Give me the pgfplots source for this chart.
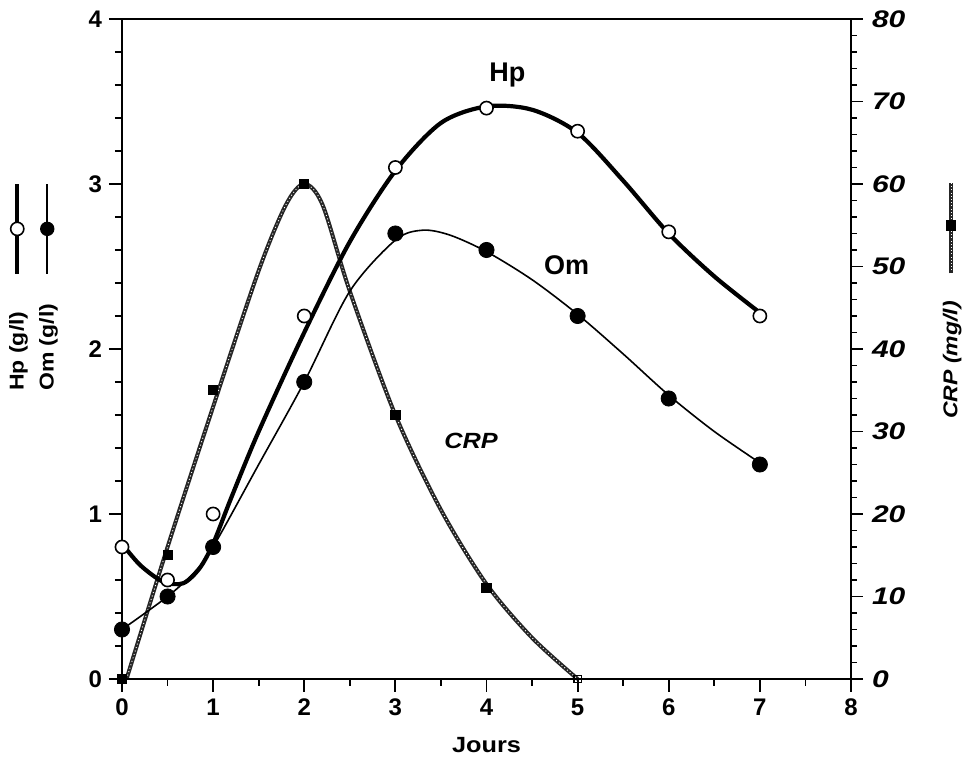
\documentclass[border=0pt]{standalone}
\usepackage{fontspec}
\setmainfont{Liberation Sans}
\newfontfamily\widefont{Liberation Sans}[FakeStretch=1.15]
\newfontfamily\tickwide{Liberation Sans}[FakeStretch=1.25]
\usepackage{pgfplots}
\usepackage{pgfplotstable}
\pgfplotsset{compat=1.18}

\pgfplotstableread{
x hp om
0 0.80 0.30
0.5 0.60 0.50
1 1.00 0.80
2 2.20 1.80
3 3.10 2.70
4 3.46 2.60
5 3.32 2.20
6 2.71 1.70
7 2.20 1.30
}\obs

\pgfplotstableread{
x crp
0 0
0.5 15
1 35
2 60
3 32
4 11
}\crpobs

\newcommand\symHp{\tikz[baseline=-0.6ex]{\draw[line width=2pt](0,0)--(45pt,0); \draw[line width=0.8pt,fill=white](22.5pt,0) circle (3.3pt);}}
\newcommand\symOm{\tikz[baseline=-0.6ex]{\draw[line width=0.8pt](0,0)--(45pt,0); \fill(22.5pt,0) circle (3.6pt);}}
\newcommand\symCRP{\tikz[baseline=-0.6ex]{\draw[line width=1.8pt,black!85](0,0)--(45pt,0); \draw[line width=0.4pt,white,dash pattern=on 0.4pt off 1.2pt](0,0)--(45pt,0); \fill(24pt,0) +(-2.6pt,-2.6pt) rectangle +(2.6pt,2.6pt);}}

\begin{document}
\begin{tikzpicture}
\useasboundingbox (-61pt,-45.5pt) rectangle (423pt,339.5pt);
% right axis: CRP
\begin{axis}[
  scale only axis, width=364.5pt, height=330pt,
  xmin=0, xmax=8, ymin=0, ymax=80,
  clip=false,
  axis x line=none, axis y line*=right,
  ytick={0,10,...,80}, minor y tick num=4,
  tick align=outside, major tick length=6pt, minor tick length=3pt,
  axis line style={line width=1pt},
  tick style={line width=0.9pt, black},
  /pgf/number format/assume math mode=true,
  yticklabel style={font=\tickwide\fontsize{12}{12}\selectfont\bfseries\itshape, xshift=1pt},
  ylabel={\widefont\fontsize{10}{12}\selectfont\bfseries\itshape CRP (mg/l)\hspace{13pt}\upshape\symCRP},
  ylabel style={at={(axis description cs:1.139,0.574)}, anchor=center},
]
\addplot[black!85, line width=2pt, smooth] coordinates {
(0.05,0) (0.5,16) (1,33) (1.5,49.5) (1.8,57.5) (2,60) (2.2,57.5) (2.5,47) (3,32) (3.5,20.5) (4,11.5) (4.5,5) (5,0)};
\addplot[white, line width=0.45pt, dash pattern=on 0.5pt off 1.3pt, smooth] coordinates {
(0.05,0) (0.5,16) (1,33) (1.5,49.5) (1.8,57.5) (2,60) (2.2,57.5) (2.5,47) (3,32) (3.5,20.5) (4,11.5) (4.5,5) (5,0)};
\addplot[only marks, mark=square*, mark size=2.3pt, black] table[x=x, y=crp] {\crpobs};
\addplot[only marks, mark=square, mark size=1.8pt, black, mark options={line width=0.7pt, fill=white}] coordinates {(5,0)};
\end{axis}
% left axis: Hp, Om
\begin{axis}[
  scale only axis, width=364.5pt, height=330pt,
  xmin=0, xmax=8, ymin=0, ymax=4,
  clip=false,
  xtick={0,1,...,8}, minor x tick num=1,
  ytick={0,1,...,4}, minor y tick num=4,
  xtick pos=bottom, ytick pos=left,
  tick align=outside, major tick length=6.5pt, minor tick length=3.5pt,
  axis line style={line width=1pt},
  tick style={line width=0.9pt, black},
  /pgf/number format/assume math mode=true,
  ticklabel style={font=\fontsize{12}{12}\selectfont\bfseries},
  xlabel={\widefont\fontsize{11}{12}\selectfont\bfseries Jours},
  xlabel style={at={(axis description cs:0.5,-0.1)}, anchor=center},
  ylabel={\widefont\fontsize{10}{12}\selectfont\bfseries\begin{tabular}{@{}l@{\hspace{14pt}}c@{}}Hp (g/l) & \symHp\\[3pt] Om (g/l) & \symOm\end{tabular}},
  ylabel style={at={(axis description cs:-0.121,0.595)}, anchor=center},
]
\addplot[black, line width=0.8pt, smooth] coordinates {
(0,0.3) (0.5,0.5) (0.8,0.65) (1,0.8) (1.5,1.3) (2,1.8) (2.5,2.35) (3,2.66) (3.3,2.72) (3.6,2.69) (4,2.59) (4.5,2.42) (5,2.21) (5.5,1.97) (6,1.72) (6.5,1.5) (7,1.31)};
\addplot[black, line width=2.1pt, smooth] coordinates {
(0,0.82) (0.2,0.69) (0.45,0.59) (0.67,0.58) (0.85,0.67) (1,0.82) (1.2,1.1) (1.5,1.5) (2,2.1) (2.5,2.65) (3,3.08) (3.5,3.37) (4,3.47) (4.5,3.45) (5,3.31) (5.5,3.02) (6,2.7) (6.5,2.44) (7,2.22)};
\addplot[only marks, mark=*, mark size=3.3pt, mark options={fill=white, draw=black, line width=0.8pt}] table[x=x, y=hp] {\obs};
\addplot[only marks, mark=*, mark size=3.8pt, black] table[x=x, y=om] {\obs};
\node[font=\fontsize{13.5}{14}\selectfont\bfseries] at (axis cs:4.23,3.66) {Hp};
\node[font=\fontsize{13.5}{14}\selectfont\bfseries] at (axis cs:4.88,2.51) {Om};
\node[font=\widefont\fontsize{11}{12}\selectfont\bfseries\itshape] at (axis cs:3.83,1.44) {CRP};
\end{axis}
\end{tikzpicture}
\end{document}
